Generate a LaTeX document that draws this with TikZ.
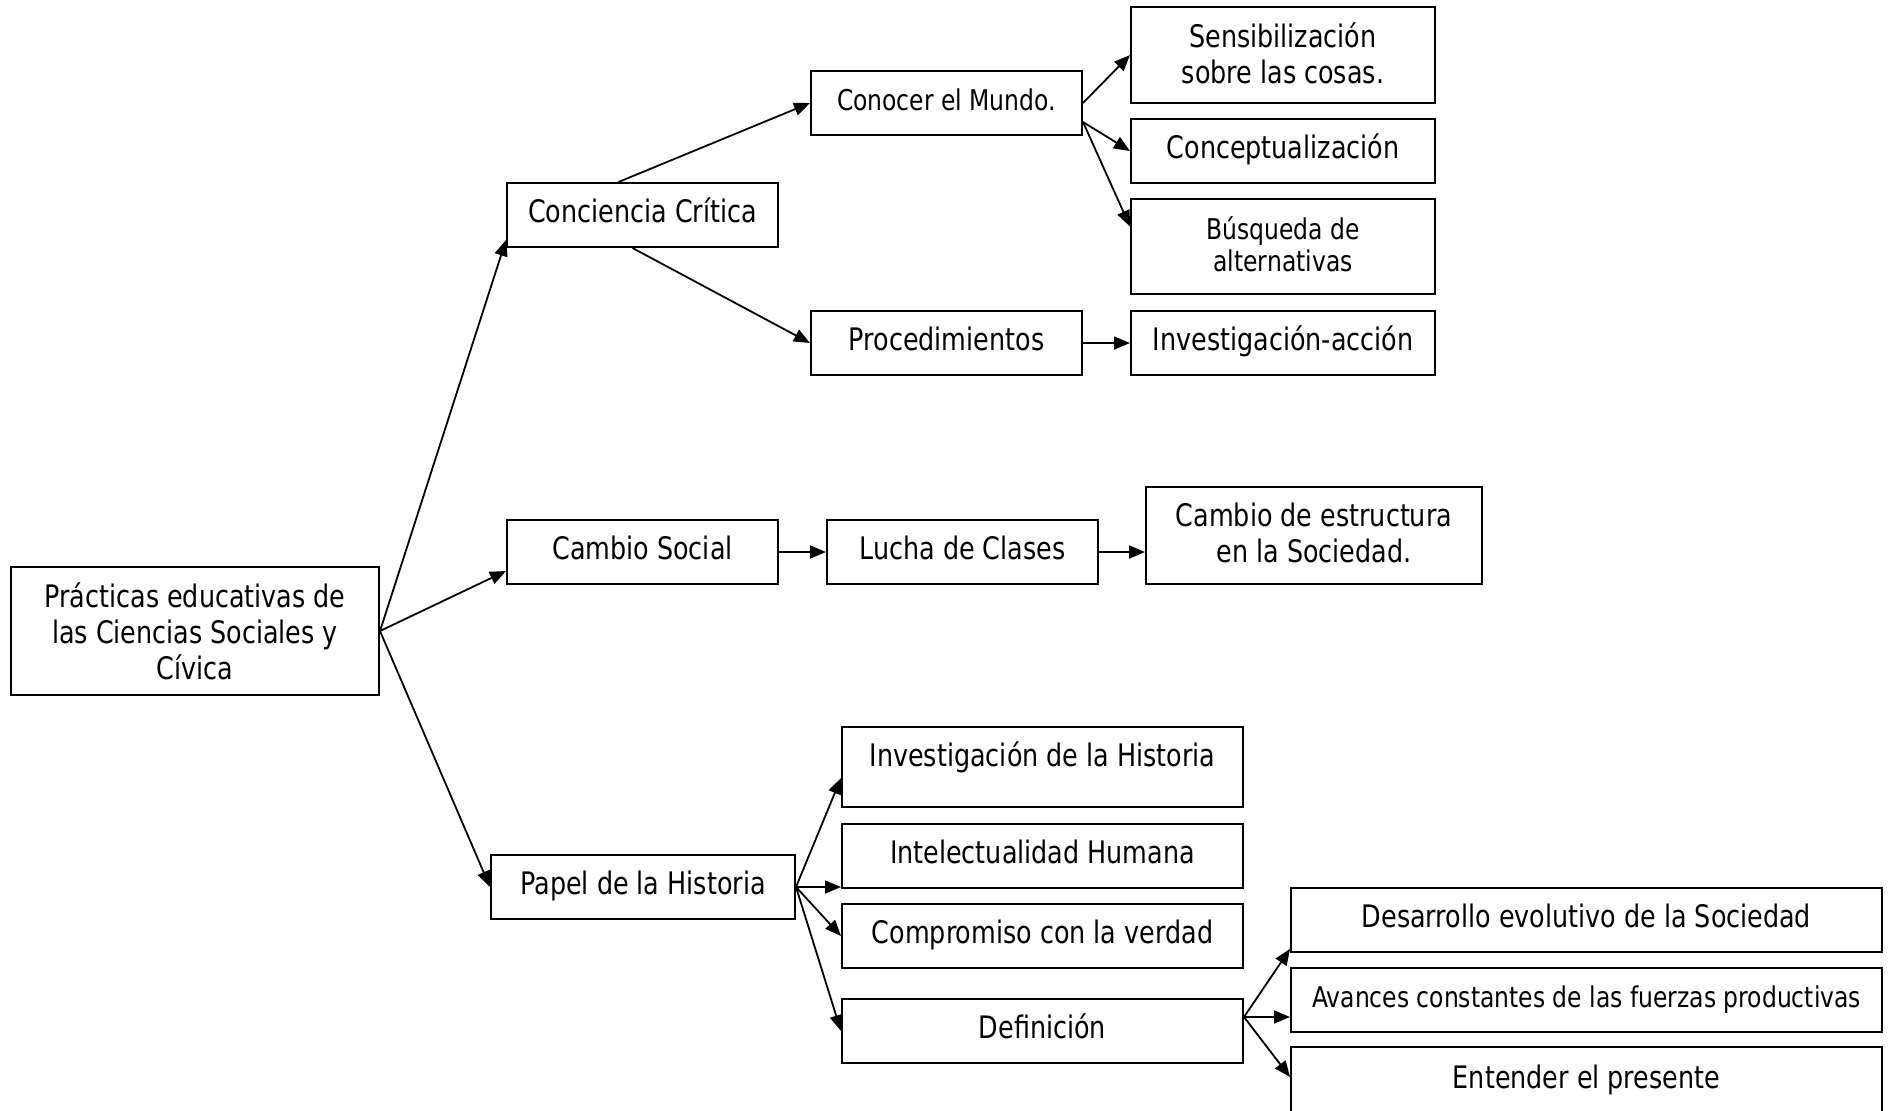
\documentclass[tikz,border=0pt]{standalone}
\usepackage{fontspec}
\setmainfont{DejaVu Sans}[FakeStretch=0.82]
\usetikzlibrary{arrows.meta}

\begin{document}
\begin{tikzpicture}[x=0.5pt,y=-0.5pt,
  caja/.style={draw,line width=1pt,align=center,inner sep=1pt,font=\fontsize{15.5}{18}\selectfont},
  una/.style={text height=12pt,text depth=4.3pt},
  dos/.style={text depth=2.4pt},
  chica/.style={font=\fontsize{14.3}{15.8}\selectfont},
  flecha/.style={line width=0.9pt,-{Triangle[length=8pt,width=6.5pt]}}]
\useasboundingbox (0,0) rectangle (1892,1110);

% raiz
\node[caja,minimum width=184pt,minimum height=64pt] (raiz) at (195,631) {Prácticas educativas de\\las Ciencias Sociales y\\Cívica};

% rama superior
\node[caja,una,minimum width=135.5pt,minimum height=32pt] (concien) at (642.5,215) {Conciencia Crítica};
\node[caja,chica,una,minimum width=135.5pt,minimum height=32pt] (mundo) at (946.5,103) {Conocer el Mundo.};
\node[caja,dos,minimum width=152pt,minimum height=48pt] (sensib) at (1283,55) {Sensibilización\\sobre las cosas.};
\node[caja,una,minimum width=152pt,minimum height=32pt] (concep) at (1283,151) {Conceptualización};
\node[caja,chica,dos,minimum width=152pt,minimum height=47.5pt] (busq) at (1283,246.5) {Búsqueda de\\alternativas};
\node[caja,una,minimum width=135.5pt,minimum height=32pt] (proced) at (946.5,343) {Procedimientos};
\node[caja,una,minimum width=152pt,minimum height=32pt] (invacc) at (1283,343) {Investigación-acción};

% rama media
\node[caja,una,minimum width=135.5pt,minimum height=32pt] (cambio) at (642.5,552) {Cambio Social};
\node[caja,una,minimum width=135.5pt,minimum height=32pt] (lucha) at (962.5,552) {Lucha de Clases};
\node[caja,dos,minimum width=168pt,minimum height=48.5pt] (estruc) at (1314,535.5) {Cambio de estructura\\en la Sociedad.};

% rama inferior
\node[caja,una,minimum width=152pt,minimum height=32pt] (papel) at (643,887) {Papel de la Historia};
\node[caja,minimum width=200.5pt,minimum height=40pt,text depth=13pt] (invhist) at (1042.5,767) {Investigación de la Historia};
\node[caja,una,minimum width=200.5pt,minimum height=32pt] (intel) at (1042.5,856) {Intelectualidad Humana};
\node[caja,una,minimum width=200.5pt,minimum height=32pt] (compro) at (1042.5,936) {Compromiso con la verdad};
\node[caja,una,minimum width=200.5pt,minimum height=32pt] (defin) at (1042.5,1031) {Definición};
\node[caja,una,minimum width=295.5pt,minimum height=32pt] (desarr) at (1586.5,920) {Desarrollo evolutivo de la Sociedad};
\node[caja,chica,una,minimum width=295.5pt,minimum height=32pt] (avances) at (1586.5,1000) {Avances constantes de las fuerzas productivas};
\node[caja,una,minimum width=295.5pt,minimum height=34pt] (entender) at (1586.5,1081) {Entender el presente};

% flechas
\draw[flecha] (raiz.east) -- ([yshift=4pt]concien.south west);
\draw[flecha] (raiz.east) -- ([yshift=7pt]cambio.south west);
\draw[flecha] (raiz.east) -- (papel.west);

\draw[flecha] ([xshift=-12pt]concien.north) -- (mundo.west);
\draw[flecha] ([xshift=-5pt]concien.south) -- (proced.west);
\draw[flecha] (mundo.east) -- (sensib.west);
\draw[flecha] ([yshift=7pt]mundo.south east) -- (concep.west);
\draw[flecha] ([yshift=7pt]mundo.south east) -- ([yshift=10pt]busq.west);
\draw[flecha] (proced.east) -- (invacc.west);

\draw[flecha] (cambio.east) -- (lucha.west);
\draw[flecha] (lucha.east) -- (lucha.east -| estruc.west);

\draw[flecha] (papel.east) -- ([yshift=-5.5pt]invhist.west);
\draw[flecha] (papel.east) -- (papel.east -| intel.west);
\draw[flecha] (papel.east) -- (compro.west);
\draw[flecha] (papel.east) -- (defin.west);

\draw[flecha] ([yshift=7pt]defin.east) -- ([yshift=2pt]desarr.south west);
\draw[flecha] ([yshift=7pt]defin.east) -- ([yshift=7pt]defin.east -| avances.west);
\draw[flecha] ([yshift=7pt]defin.east) -- ([yshift=2pt]entender.west);
\end{tikzpicture}
\end{document}
